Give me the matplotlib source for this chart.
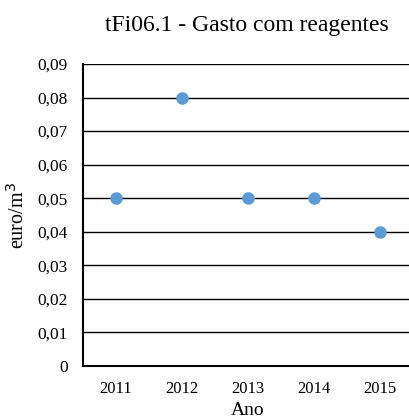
import matplotlib
matplotlib.use('Agg')
import matplotlib.pyplot as plt
from matplotlib.ticker import FuncFormatter

anos = ['2011', '2012', '2013', '2014', '2015']
gasto = [0.05, 0.08, 0.05, 0.05, 0.04]
yticks = [0, 0.01, 0.02, 0.03, 0.04, 0.05, 0.06, 0.07, 0.08, 0.09]

plt.rcParams['font.family'] = ['Liberation Serif', 'DejaVu Serif']

fig = plt.figure(figsize=(4.09, 4.19), dpi=100)
W, H = 409.0, 419.0
# axes box in pixels: left 83, right 413, top 64, bottom 366
ax = fig.add_axes([83 / W, 1 - 366 / H, (413 - 83) / W, (366 - 64) / H])

x = list(range(len(anos)))
ax.plot(x, gasto, linestyle='none', marker='o', markersize=8,
        color='#5B9BD5', zorder=3, clip_on=False)

ax.set_xlim(-0.5, 4.5)
ax.set_ylim(0, 0.09)
ax.set_xticks(x)
ax.set_xticklabels(anos)
ax.set_yticks(yticks)
ax.yaxis.set_major_formatter(FuncFormatter(lambda v, p: '0' if v == 0 else ('%.2f' % v).replace('.', ',')))
ax.tick_params(length=0, colors='black')
ax.tick_params(axis='x', pad=11, labelsize=12)
ax.tick_params(axis='y', pad=11, labelsize=12.5)

ax.grid(axis='y', color='black', linewidth=1.0)
ax.set_axisbelow(True)
for s in ['top', 'right']:
    ax.spines[s].set_visible(False)
ax.spines['left'].set_linewidth(1.5)
ax.spines['bottom'].set_linewidth(1.5)

fig.text(18 / W, 1 - 215 / H, 'euro/m$^3$', fontsize=14.5, rotation=90,
         ha='center', va='center')
fig.text(248 / W, 0.5 / H, 'Ano', fontsize=14, ha='center', va='bottom')
fig.text(247 / W, 1 - 31 / H, 'tFi06.1 - Gasto com reagentes', fontsize=17,
         ha='center', va='baseline')

fig.savefig('out.png', dpi=100)
